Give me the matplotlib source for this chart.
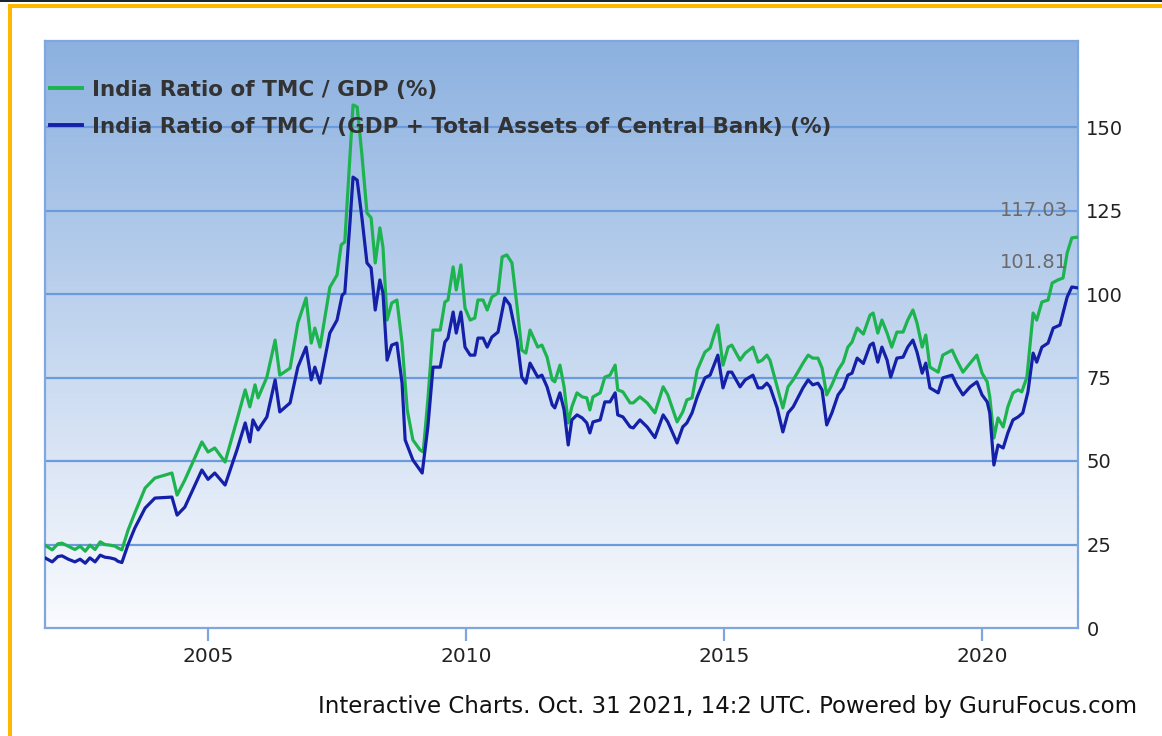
import numpy as np
import matplotlib
matplotlib.use("Agg")
import matplotlib.pyplot as plt
from matplotlib.patches import Rectangle
from matplotlib.lines import Line2D

# ---------------- data ----------------
dates_gdp = [2001.84, 2001.98, 2002.09, 2002.17, 2002.29, 2002.42, 2002.52, 2002.62, 2002.71, 2002.81,
             2002.91, 2003.00, 2003.10, 2003.20, 2003.25, 2003.33, 2003.45, 2003.58, 2003.78, 2003.97,
             2004.30, 2004.40, 2004.55, 2004.88, 2005.00, 2005.13, 2005.33, 2005.56, 2005.72, 2005.81,
             2005.91, 2005.97, 2006.14, 2006.30, 2006.39, 2006.59, 2006.74, 2006.90, 2007.00, 2007.07,
             2007.17, 2007.36, 2007.50, 2007.58, 2007.65, 2007.75, 2007.81, 2007.89, 2007.98, 2008.08,
             2008.16, 2008.24, 2008.33, 2008.39, 2008.47, 2008.56, 2008.66, 2008.76, 2008.86, 2008.97,
             2009.11, 2009.17, 2009.26, 2009.36, 2009.50, 2009.59, 2009.65, 2009.75, 2009.81, 2009.90,
             2009.98, 2010.08, 2010.17, 2010.23, 2010.33, 2010.41, 2010.50, 2010.62, 2010.70, 2010.79,
             2010.89, 2010.99, 2011.08, 2011.16, 2011.24, 2011.39, 2011.47, 2011.57, 2011.67, 2011.72,
             2011.82, 2011.90, 2011.98, 2012.05, 2012.15, 2012.25, 2012.34, 2012.40, 2012.46, 2012.60,
             2012.69, 2012.79, 2012.89, 2012.94, 2013.04, 2013.18, 2013.24, 2013.37, 2013.51, 2013.66,
             2013.82, 2013.91, 2014.09, 2014.20, 2014.28, 2014.38, 2014.48, 2014.63, 2014.73, 2014.82,
             2014.88, 2014.98, 2015.08, 2015.15, 2015.31, 2015.41, 2015.56, 2015.66, 2015.74, 2015.83,
             2015.89, 2016.03, 2016.14, 2016.24, 2016.34, 2016.43, 2016.53, 2016.63, 2016.72, 2016.82,
             2016.90, 2016.99, 2017.09, 2017.21, 2017.31, 2017.40, 2017.48, 2017.58, 2017.70, 2017.83,
             2017.89, 2017.98, 2018.06, 2018.16, 2018.25, 2018.35, 2018.47, 2018.56, 2018.66, 2018.74,
             2018.84, 2018.91, 2018.99, 2019.15, 2019.24, 2019.42, 2019.51, 2019.63, 2019.77, 2019.90,
             2020.00, 2020.10, 2020.15, 2020.23, 2020.31, 2020.41, 2020.50, 2020.60, 2020.70, 2020.77,
             2020.87, 2020.99, 2021.06, 2021.16, 2021.28, 2021.36, 2021.47, 2021.57, 2021.65, 2021.74,
             2021.86]
tmc_gdp = [24.8, 23.4, 25.2, 25.4, 24.5, 23.5, 24.5, 23.0, 24.8, 23.5,
           25.8, 25.0, 24.8, 24.5, 24.0, 23.4, 29.3, 34.4, 41.9, 44.9,
           46.4, 39.8, 44.3, 55.7, 52.7, 53.9, 49.7, 62.3, 71.3, 66.2,
           72.8, 68.9, 75.1, 86.2, 75.7, 77.8, 91.3, 98.8, 85.3, 89.8,
           84.1, 102.0, 105.7, 114.7, 115.6, 141.0, 156.6, 156.0, 142.0, 124.3,
           122.8, 109.3, 119.8, 114.0, 92.2, 97.3, 98.2, 85.3, 65.3, 56.3,
           53.3, 52.7, 68.3, 89.2, 89.2, 97.6, 98.2, 108.1, 101.2, 108.7,
           95.8, 92.2, 92.8, 98.2, 98.2, 95.2, 99.1, 100.3, 111.1, 111.7,
           109.3, 96.1, 83.2, 82.3, 89.2, 84.1, 84.7, 81.1, 74.3, 73.7,
           78.7, 72.2, 61.4, 66.2, 70.4, 69.2, 68.9, 65.3, 69.2, 70.4,
           75.1, 75.7, 78.7, 71.3, 70.7, 67.4, 67.4, 69.2, 67.4, 64.4,
           72.2, 69.8, 61.7, 64.7, 68.3, 68.9, 77.2, 82.6, 83.8, 88.3,
           90.7, 78.7, 84.1, 84.7, 80.2, 82.3, 84.1, 79.6, 80.2, 81.7,
           80.2, 72.2, 65.9, 72.2, 74.3, 76.6, 79.3, 81.7, 80.8, 80.8,
           77.8, 69.8, 72.8, 77.2, 79.6, 84.1, 85.6, 89.8, 88.0, 93.7,
           94.3, 88.3, 92.2, 88.3, 84.1, 88.6, 88.6, 92.2, 95.2, 91.3,
           84.1, 87.7, 78.1, 76.6, 81.7, 83.2, 80.2, 76.6, 79.3, 81.7,
           76.3, 73.7, 69.2, 56.9, 62.9, 60.2, 66.2, 70.4, 71.3, 70.7,
           75.1, 94.3, 92.2, 97.6, 98.2, 103.3, 104.2, 104.8, 112.3, 116.8,
           117.03]

dates_ca = [2001.84, 2001.98, 2002.09, 2002.17, 2002.29, 2002.42, 2002.52, 2002.62, 2002.71, 2002.81,
            2002.91, 2003.00, 2003.10, 2003.20, 2003.25, 2003.33, 2003.45, 2003.58, 2003.78, 2003.97,
            2004.30, 2004.40, 2004.55, 2004.88, 2005.00, 2005.13, 2005.33, 2005.56, 2005.72, 2005.81,
            2005.87, 2005.97, 2006.14, 2006.30, 2006.39, 2006.59, 2006.74, 2006.90, 2007.00, 2007.07,
            2007.17, 2007.36, 2007.50, 2007.60, 2007.65, 2007.75, 2007.81, 2007.89, 2007.98, 2008.08,
            2008.16, 2008.24, 2008.33, 2008.39, 2008.47, 2008.56, 2008.66, 2008.76, 2008.82, 2008.97,
            2009.15, 2009.26, 2009.36, 2009.50, 2009.59, 2009.65, 2009.75, 2009.81, 2009.90, 2009.98,
            2010.08, 2010.17, 2010.23, 2010.33, 2010.41, 2010.50, 2010.62, 2010.75, 2010.85, 2010.99,
            2011.08, 2011.16, 2011.24, 2011.39, 2011.47, 2011.57, 2011.67, 2011.72, 2011.82, 2011.90,
            2011.98, 2012.05, 2012.15, 2012.25, 2012.34, 2012.40, 2012.46, 2012.60, 2012.69, 2012.79,
            2012.89, 2012.94, 2013.04, 2013.18, 2013.24, 2013.37, 2013.51, 2013.66, 2013.82, 2013.91,
            2014.09, 2014.20, 2014.28, 2014.38, 2014.48, 2014.63, 2014.73, 2014.82, 2014.88, 2014.98,
            2015.08, 2015.15, 2015.31, 2015.41, 2015.56, 2015.66, 2015.74, 2015.83, 2015.89, 2016.03,
            2016.14, 2016.24, 2016.34, 2016.43, 2016.53, 2016.63, 2016.72, 2016.82, 2016.90, 2016.99,
            2017.09, 2017.21, 2017.31, 2017.40, 2017.48, 2017.58, 2017.70, 2017.83, 2017.89, 2017.98,
            2018.06, 2018.16, 2018.23, 2018.35, 2018.47, 2018.56, 2018.66, 2018.74, 2018.84, 2018.91,
            2018.99, 2019.15, 2019.24, 2019.42, 2019.51, 2019.63, 2019.77, 2019.90, 2020.00, 2020.10,
            2020.15, 2020.23, 2020.31, 2020.41, 2020.50, 2020.60, 2020.70, 2020.79, 2020.89, 2020.99,
            2021.06, 2021.16, 2021.28, 2021.38, 2021.51, 2021.65, 2021.74, 2021.86]
tmc_gdp_ca = [21.0, 19.8, 21.4, 21.6, 20.6, 19.8, 20.6, 19.4, 21.0, 19.8,
              21.8, 21.2, 21.0, 20.6, 20.0, 19.6, 25.0, 29.9, 35.9, 38.9,
              39.2, 33.8, 36.2, 47.3, 44.5, 46.4, 42.8, 53.3, 61.4, 55.7,
              62.3, 59.3, 63.2, 74.3, 64.7, 67.4, 78.1, 84.1, 74.3, 78.1,
              73.3, 88.3, 92.2, 99.7, 100.3, 121.3, 135.0, 134.1, 123.1, 109.3,
              107.8, 95.2, 104.2, 100.3, 80.2, 84.7, 85.3, 73.3, 56.3, 50.3,
              46.4, 60.2, 78.1, 78.1, 85.6, 86.8, 94.6, 88.3, 94.6, 84.1,
              81.7, 81.7, 86.8, 86.8, 84.1, 87.1, 88.6, 98.8, 96.7, 86.2,
              75.1, 73.3, 79.3, 75.1, 75.7, 72.2, 66.8, 65.9, 70.4, 65.3,
              54.8, 62.3, 63.8, 62.9, 61.4, 58.4, 61.7, 62.3, 67.7, 67.7,
              70.4, 63.8, 63.2, 60.2, 59.9, 62.3, 60.2, 57.0, 63.8, 61.7,
              55.4, 60.2, 61.4, 64.4, 69.2, 74.9, 75.7, 79.3, 81.7, 71.9,
              76.6, 76.6, 72.2, 74.3, 75.7, 71.9, 71.9, 73.3, 72.2, 65.9,
              58.7, 64.4, 66.2, 68.9, 71.9, 74.3, 72.8, 73.3, 71.3, 60.8,
              64.4, 69.8, 71.9, 75.7, 76.3, 80.8, 79.2, 84.7, 85.3, 79.6,
              84.1, 80.2, 75.1, 80.8, 81.1, 84.1, 86.2, 82.6, 76.3, 79.3,
              71.9, 70.4, 74.9, 75.7, 72.8, 69.8, 72.2, 73.7, 69.8, 67.7,
              64.4, 48.8, 54.8, 53.9, 58.4, 62.3, 63.2, 64.4, 70.7, 82.3,
              79.6, 84.1, 85.3, 89.8, 90.7, 99.1, 102.1, 101.81]

series_labels = ["India Ratio of TMC / GDP (%)",
                 "India Ratio of TMC / (GDP + Total Assets of Central Bank) (%)"]
y_ticks = [0, 25, 50, 75, 100, 125, 150]
x_ticks = [2005, 2010, 2015, 2020]
footer = "Interactive Charts. Oct. 31 2021, 14:2 UTC. Powered by GuruFocus.com"

# ---------------- figure ----------------
W, H = 1162, 736
fig = plt.figure(figsize=(W / 100, H / 100), dpi=100)
fig.patch.set_facecolor("white")

# frame decorations (screenshot border)
fig.patches.append(Rectangle((0, 1 - 2 / H), 1, 2 / H, transform=fig.transFigure,
                             facecolor="#1c2733", edgecolor="none"))
fig.patches.append(Rectangle((8 / W, 1 - 8 / H), 1 - 8 / W, 4 / H, transform=fig.transFigure,
                             facecolor="#FFB800", edgecolor="none"))
fig.patches.append(Rectangle((8 / W, 0), 4 / W, 1 - 4 / H, transform=fig.transFigure,
                             facecolor="#FFB800", edgecolor="none"))

L, R, T, B = 45, 1078, 41, 628
ax = fig.add_axes([L / W, (H - B) / H, (R - L) / W, (B - T) / H])

xmin, xmax = 2001.84, 2021.86
ymax = (B - T) / (B - 127) * 150
ax.set_xlim(xmin, xmax)
ax.set_ylim(0, ymax)

# gradient background
top = np.array([0x8C, 0xB1, 0xE0]) / 255
bot = np.array([0xFA, 0xFB, 0xFE]) / 255
t = np.linspace(0, 1, 256)[:, None]
grad = (top[None, :] * (1 - t) + bot[None, :] * t)[:, None, :]
ax.imshow(grad, extent=[0, 1, 0, 1], transform=ax.transAxes, aspect="auto",
          zorder=0, interpolation="bilinear")
ax.set_facecolor("none")

grid_c = "#6B9BDC"
for yv in y_ticks[1:]:
    ax.axhline(yv, color=grid_c, lw=1.6, zorder=1)

ax.plot(dates_gdp, tmc_gdp, color="#1DB34F", lw=2.3, zorder=3, solid_joinstyle="round")
ax.plot(dates_ca, tmc_gdp_ca, color="#1420A8", lw=2.3, zorder=4, solid_joinstyle="round")

for s in ax.spines.values():
    s.set_color("#7EA7E0")
    s.set_linewidth(1.6)

ax.yaxis.tick_right()
ax.set_yticks(y_ticks)
ax.set_yticklabels([str(v) for v in y_ticks])
ax.tick_params(axis="y", length=0, pad=6, labelsize=14, labelcolor="#222222")
ax.set_xticks(x_ticks)
ax.set_xticklabels([str(v) for v in x_ticks])
ax.tick_params(axis="x", length=9, width=1.6, color="#7EA7E0", pad=5,
               labelsize=14.5, labelcolor="#222222")

# legend
handles = [Line2D([], [], color="#1DB34F", lw=2.8), Line2D([], [], color="#1420A8", lw=2.8)]
leg = ax.legend(handles, series_labels, loc="upper left",
                bbox_to_anchor=(5 / (R - L), (B - 80) / (B - T)),
                frameon=False, borderpad=0, borderaxespad=0,
                handlelength=1.5, handletextpad=0.47, labelspacing=0.78,
                prop={"family": "DejaVu Sans", "weight": "bold", "size": 15.5})
for txt in leg.get_texts():
    txt.set_color("#333333")

# end value labels
ax.text(1068 / W, 1 - 211 / H, f"{tmc_gdp[-1]:.2f}", transform=fig.transFigure,
        ha="right", va="center", fontsize=14, color="#6b6b6b")
ax.text(1068 / W, 1 - 263 / H, f"{tmc_gdp_ca[-1]:.2f}", transform=fig.transFigure,
        ha="right", va="center", fontsize=14, color="#6b6b6b")

fig.text(1137 / W, 1 - 707 / H, footer, ha="right", va="center",
         fontsize=16.5, color="#111111")

fig.savefig("out.png", dpi=100)
